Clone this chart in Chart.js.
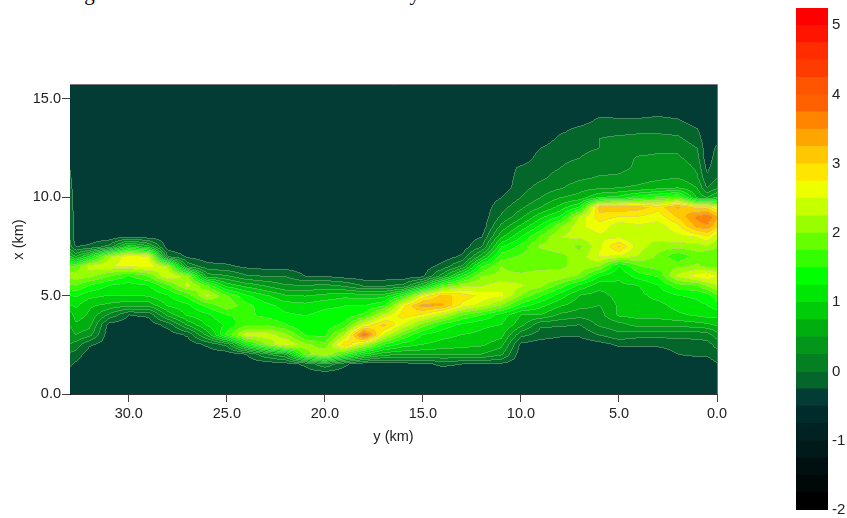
<!DOCTYPE html>
<html><head><meta charset="utf-8">
<script src="https://cdn.jsdelivr.net/npm/chart.js@4/dist/chart.umd.min.js"></script>
<style>
html,body{margin:0;padding:0;background:#fff;width:847px;height:518px;overflow:hidden}
canvas{position:absolute;display:block}
#cap{position:absolute;left:5px;top:-19px;font:21px "Liberation Serif",serif;word-spacing:-1.8px;white-space:nowrap;color:#000}
</style></head><body>
<div id="cap">continuing to move under the thinner crust entirely</div>
<canvas id="main" width="780" height="518" style="left:0;top:0"></canvas>
<canvas id="bar" width="67" height="518" style="left:780px;top:0"></canvas>
<script>
const n = -0.4;
const xTicksLabel = 'y (km)', yTicksLabel = 'x (km)';
const levelStart = -2, levelStep = 0.25;
const levelColors = ['#000000','#000808','#001010','#001a1a','#002222','#002b2b','#023c34','#05662c','#048022','#03961a','#01ae10','#00cc0a','#00e605','#00ff00','#33ff00','#66ff00','#99ff00','#c6ff00','#eeff00','#ffe600','#ffc800','#ffa500','#ff8500','#ff6000','#ff5500','#ff3c00','#ff2d00','#ff1400','#ff0000'];
// rows: x = 0, 0.5, 1 ... km; columns in yKm order; rows not listed are background
const xKm = [0,.5,1,1.5,2,2.5,3,3.5,4,4.5,5,5.5,6,6.5,7,7.5,8,8.5,9,9.5,10,10.5,11,11.5,12,12.5,13,13.5,14,14.5,15,15.5];
const yKm = [33,32.7,32,31,30,29,28,27,26,25,24,23,22,21,20,19,18,17,16,15,14,13,12,11,10,9,8,7,6,5,4,3,2,1,.5,0];
const field = [
[n,n,-.35,-.2,-.05,.25,.4,.5,.6,1,1.25,1.7,2.1,1.8,.8,.1,0,0,0,-.05,-.1,-.15,-.2,-.25,-.35],
[n,n,n,-.3,-.1,.15,.5,.7,.9,1.05,1.3,1.75,2.2,1.8,.5,-.25],
[n,n,n,n,n,-.2,.35,.6,.7,.8,1.1,1.5,2.1,2.4,1.1,-.2],
[n,n,n,n,n,n,n,-.35,.2,.7,1,1.25,1.8,2.5,2.2,.1],
[n,n,n,n,n,n,n,n,-.25,.6,1,1.15,1.5,2.6,2.7,1,-.25],
[n,n,n,n,n,n,n,n,-.2,.6,1.05,1.25,1.8,2.7,2.6,.6,-.35],
[n,n,n,n,n,n,n,-.15,.6,1.05,1.25,1.7,2.55,2.2,0],
[n,n,n,n,n,n,-.2,.55,1.05,1.2,1.6,2.35,2.1,.2,-.3],
[n,n,n,n,n,-.2,.6,1.05,1.2,1.6,2.35,1.8,.4,-.15],
[n,n,n,n,n,.1,1.6,1.3,1.5,1.95,1.8,.95,.3,-.2],
[n,n,n,n,-.25,1.3,2.45,1.75,1.55,1.6,1.3,.7,.05,-.3],
[n,n,n,n,.2,2,2.45,1.75,1.45,1.35,1.05,.5,0,-.35],
[n,n,n,-.35,.5,2.6,2.1,1.55,1.3,1.15,.8,.3,0,-.35],
[n,n,n,-.2,1.9,2.1,1.5,1.25,1.25,1.1,.75,.3,-.25],
[n,n,n,.2,2.3,1.85,1.45,1.35,1.35,1.2,.85,.35,-.25],
[n,n,n,-.2,1.6,3,2.3,1.6,1.35,1.25,.95,.25,-.35],
[n,n,n,n,1,2.3,3.9,2.6,1.6,1.25,.9,0],
[n,n,n,n,.6,1.5,2.5,3.1,2.4,1.5,.9,0],
[n,n,n,-.35,.55,1.15,1.75,2.5,2.9,2.7,1.5,.1],
[n,n,n,-.3,.55,1,1.25,1.9,2.7,3.4,2.6,.8,-.3],
[n,n,n,-.2,.55,.9,1.1,1.4,2.3,3.3,3.1,1.8,.4,-.15],
[n,n,n,-.25,.55,.85,1,1.2,1.75,2.7,2.9,2.2,1.3,.3,-.2],
[n,n,n,-.25,.5,.8,.95,1.05,1.5,2.4,2.7,2.25,2,1.5,.65,0,-.25],
[n,n,n,-.3,.3,.6,.85,1,1.15,2,2.6,2.4,2.1,2,1.65,1.25,.7,.35,.05,-.1,-.25],
[n,n,n,n,n,-.3,.1,.6,.75,1.4,2,2.3,2.1,1.8,1.8,1.6,1.25,.85,.45,.2,0,-.1,-.15,-.2],
[n,n,n,n,n,n,-.1,.05,.75,1.1,1.55,2.1,2.25,1.85,1.85,2.05,1.8,1.35,.95,.5,.25,.1,-.05,-.1,-.15,-.25],
[n,n,n,n,n,n,-.2,.05,.45,.8,1.15,1.65,2.25,1.9,1.95,2.15,2.25,2,1.3,.85,.5,.22,.1,0,-.05,-.1,-.2,-.32],
[n,n,n,n,n,n,-.2,0,.35,.6,.75,1.2,1.95,2.2,2.1,1.95,2.35,2.45,2.35,1.3,.6,.4,.2,.1,0,-.05,-.1,-.2],
[n,n,n,n,n,-.35,.02,.3,.4,.5,.65,.85,1.3,2.05,2.55,2.45,2.45,2.65,2.9,3.15,1,.45,.28,.15,.1,0,0,-.1,-.22],
[n,n,n,n,n,-.2,.2,.4,.8,.8,.85,.95,1.05,1.25,2.5,3.05,2.45,2.35,2.75,3.25,1.1,.5,.3,.18,.15,.12,.05,-.1,-.24],
[n,n,n,n,n,-.2,.1,.6,.85,.9,.93,1,1.4,1.75,2.25,2.35,2.25,2.45,2.75,3.15,1.4,.55,.4,.3,.28,.15,.05,-.05,-.24],
[n,n,n,n,n,-.2,.1,.6,.85,.92,1.1,1.25,1.55,1.9,1.95,2.15,2.35,2.4,2.6,2.9,1.6,.65,.45,.35,.3,.2,.05,-.05,-.2],
[n,n,n,n,-.25,-.15,.1,.6,.95,1.1,1.25,1.65,2.35,1.95,1.55,2.15,2.45,2.65,3.05,3.3,1.8,.75,.5,.45,.3,.2,.05,-.1,-.25],
[n,n,n,n,-.2,-.1,.1,.65,1.05,1.2,1.3,1.75,2.7,2.05,1.9,2.15,2.55,3.35,3.6,2.9,.7,.5,.3,.2,.1,0,-.15,-.25],
[n,n,n,n,-.2,-.1,.15,.7,1.1,1.25,1.4,2.05,2.8,1.95,1.75,2.25,2.75,3.45,3.8,2.9,.5,0,-.2,-.3],
[n,n,n,-.27,-.1,.1,.4,.8,1.1,1.4,1.7,2.3,2.5,1.95,1.75,2.05,2.35,3.05,3.3,2.5,.8,.2,0,-.05,-.1,-.2,-.35]
];
const tickFont = {family:'"Liberation Sans",Arial,sans-serif', size:14.5};
const hexRgb = levelColors.map(h=>[parseInt(h.slice(1,3),16),parseInt(h.slice(3,5),16),parseInt(h.slice(5,7),16)]);
function valueAt(yv,xv){
  let c=0; while(c<yKm.length-2 && yv<yKm[c+1]) c++;
  const ty=Math.min(1,Math.max(0,(yKm[c]-yv)/(yKm[c]-yKm[c+1])));
  const rf=Math.min(xKm.length-1.001,Math.max(0,xv/0.5)); const r=Math.floor(rf), tx=rf-r;
  const g=(i,j)=>{const v=field[i][j]; return v===undefined?n:v;};
  return (g(c,r)*(1-tx)+g(c,r+1)*tx)*(1-ty)+(g(c+1,r)*(1-tx)+g(c+1,r+1)*tx)*ty;
}
const contourPlugin={id:'contour',beforeDatasetsDraw(chart){
  const a=chart.chartArea, sx=chart.scales.x, sy=chart.scales.y;
  const L=Math.round(a.left),T=Math.round(a.top),W=Math.round(a.right)-L,H=Math.round(a.bottom)-T;
  const band=new Int16Array(W*H);
  for(let j=0;j<H;j++){const xv=sy.getValueForPixel(T+j+.5);
    for(let i=0;i<W;i++){const yv=sx.getValueForPixel(L+i+.5);
      band[j*W+i]=Math.max(0,Math.min(levelColors.length-1,Math.floor((valueAt(yv,xv)-levelStart)/levelStep)));}}
  const img=chart.ctx.createImageData(W,H),d=img.data,al=.35,lc=190;
  for(let j=0;j<H;j++)for(let i=0;i<W;i++){
    const b=band[j*W+i],c=hexRgb[b],k=(j*W+i)*4;
    const edge=(i+1<W&&band[j*W+i+1]<b)||(j+1<H&&band[(j+1)*W+i]<b)||(j>0&&band[(j-1)*W+i]<b)||(i>0&&band[j*W+i-1]<b);
    const f=edge?al:0;
    d[k]=c[0]*(1-f)+lc*f;d[k+1]=c[1]*(1-f)+lc*f;d[k+2]=c[2]*(1-f)+lc*f;d[k+3]=255;}
  chart.ctx.putImageData(img,L,T);
},afterDraw(chart){
  const a=chart.chartArea,c=chart.ctx;c.save();c.strokeStyle='#777';c.lineWidth=1;c.beginPath();
  c.moveTo(a.left,Math.round(a.top)-.5);c.lineTo(Math.round(a.right)+.5,Math.round(a.top)-.5);c.lineTo(Math.round(a.right)+.5,a.bottom);c.stroke();c.restore();
}};
const points=[];
yKm.forEach((yv,c)=>xKm.forEach((xv,r)=>{const v=field[c][r];points.push({x:yv,y:xv,v:v===undefined?n:v});}));
new Chart(document.getElementById('main'),{type:'scatter',
 data:{datasets:[{data:points,pointRadius:0,showLine:false}]},
 plugins:[contourPlugin],
 options:{responsive:false,animation:false,events:[],
  layout:{padding:{top:85,right:63,left:0,bottom:0}},
  plugins:{legend:{display:false},tooltip:{enabled:false}},
  scales:{
   x:{type:'linear',reverse:true,min:0,max:33,afterFit(s){s.height=124;},
    grid:{drawOnChartArea:false,color:'#444',tickLength:8},border:{color:'#333'},
    ticks:{stepSize:5,includeBounds:false,maxRotation:0,autoSkip:false,padding:3,color:'#222',font:tickFont,callback:v=>v.toFixed(1)},
    title:{display:true,text:xTicksLabel,color:'#222',font:tickFont,padding:{bottom:72,top:0}}},
   y:{type:'linear',min:0,max:15.7,afterFit(s){s.width=70;},
    grid:{drawOnChartArea:false,color:'#444',tickLength:8},border:{color:'#000'},
    ticks:{stepSize:5,includeBounds:false,autoSkip:false,padding:1,color:'#222',font:tickFont,callback:v=>v.toFixed(1)},
    title:{display:true,text:yTicksLabel,color:'#222',font:tickFont,padding:{top:10,bottom:0}}}
  }}});
const barLabels=['scale'];
new Chart(document.getElementById('bar'),{type:'bar',
 data:{labels:barLabels,datasets:levelColors.map((col,i)=>({data:[[levelStart+i*levelStep,levelStart+(i+1)*levelStep]],backgroundColor:col,borderWidth:0,barPercentage:1,categoryPercentage:1,grouped:false}))},
 options:{responsive:false,animation:false,events:[],
  layout:{padding:{top:8,bottom:8,left:16,right:0},autoPadding:false},
  plugins:{legend:{display:false},tooltip:{enabled:false}},
  scales:{
   x:{display:false,offset:true,grid:{display:false}},
   y:{type:'linear',position:'right',min:-2,max:5.25,afterFit(s){s.width=19;s.paddingTop=0;s.paddingBottom=0;},
    grid:{display:false,drawTicks:false},border:{display:false},
    ticks:{stepSize:1,includeBounds:false,padding:4,color:'#222',font:{...tickFont,size:15},callback:v=>String(v)}}
  }}});
</script></body></html>
